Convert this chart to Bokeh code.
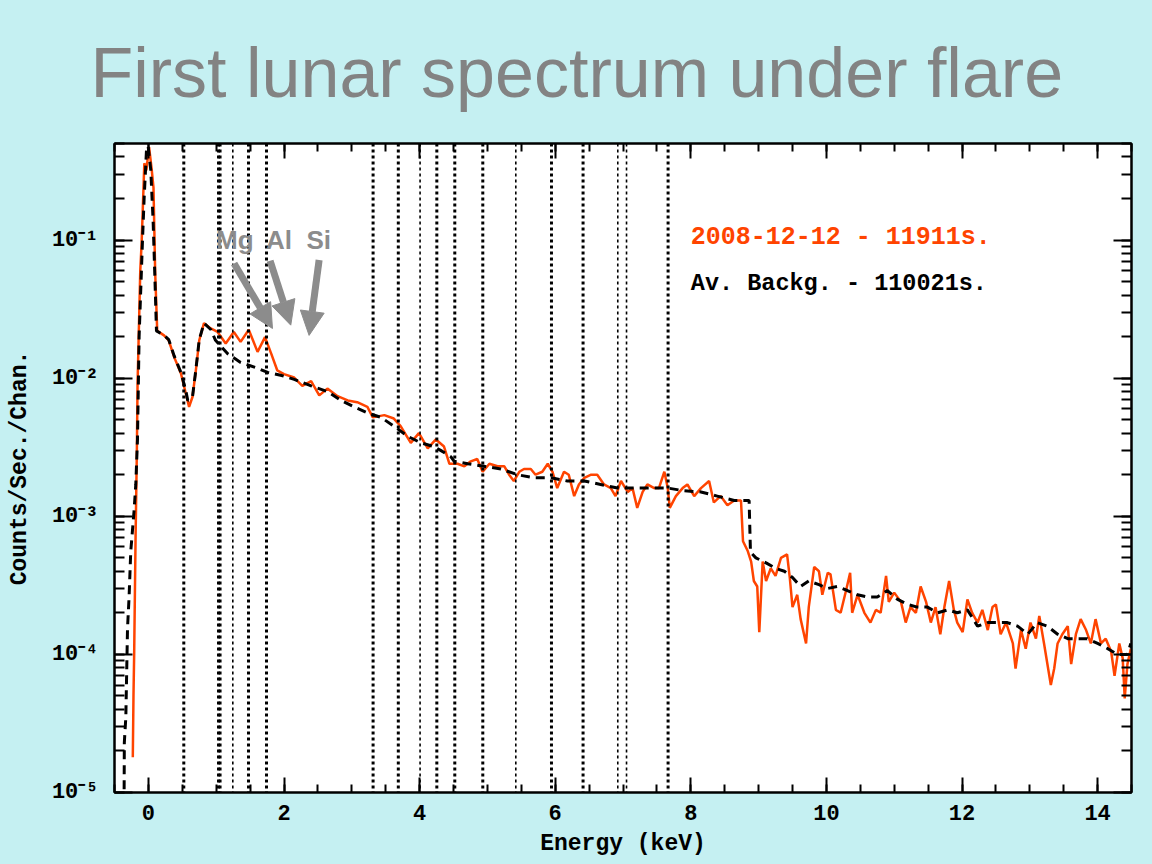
from bokeh.plotting import figure
from bokeh.models import (LogAxis, LinearAxis, Span, Label, Arrow, NormalHead,
                          SingleIntervalTicker, LogTicker, CustomJSTickFormatter)
from bokeh.embed import file_html
from bokeh.resources import INLINE

# ---------------- data ----------------
flare_energy = [-0.23, -0.22, -0.21, -0.19, -0.17, -0.16, -0.12, -0.10, -0.06, -0.03,
                0.01, 0.05, 0.075, 0.10, 0.13, 0.23, 0.30, 0.38, 0.48, 0.55,
                0.60, 0.65, 0.70, 0.75, 0.82, 0.92, 1.02, 1.14, 1.26, 1.36,
                1.48, 1.61, 1.72, 1.81, 1.90, 2.00, 2.15, 2.27, 2.40, 2.52,
                2.64, 2.79, 2.94, 3.08, 3.23, 3.31, 3.48, 3.62, 3.72, 3.87,
                3.99, 4.12, 4.24, 4.36, 4.44, 4.56, 4.66, 4.755, 4.85, 4.93,
                5.03, 5.15, 5.25, 5.32, 5.39, 5.47, 5.54, 5.64, 5.71, 5.81,
                5.89, 5.96, 6.03, 6.13, 6.20, 6.28, 6.35, 6.43, 6.53, 6.62,
                6.72, 6.82, 6.89, 6.97, 7.07, 7.14, 7.21, 7.29, 7.36, 7.46,
                7.53, 7.61, 7.66, 7.69, 7.78, 7.88, 7.95, 8.05, 8.15, 8.27,
                8.34, 8.44, 8.54, 8.64, 8.71, 8.74, 8.77, 8.84, 8.89, 8.93,
                8.98, 9.01, 9.06, 9.11, 9.18, 9.25, 9.33, 9.42, 9.46, 9.50,
                9.57, 9.62, 9.70, 9.74, 9.82, 9.89, 9.94, 10.02, 10.06, 10.14,
                10.21, 10.29, 10.35, 10.38, 10.46, 10.56, 10.65, 10.73, 10.80, 10.88,
                10.92, 11.00, 11.10, 11.17, 11.24, 11.32, 11.39, 11.47, 11.54, 11.61,
                11.68, 11.74, 11.81, 11.88, 11.93, 12.01, 12.08, 12.15, 12.23, 12.30,
                12.38, 12.45, 12.50, 12.57, 12.65, 12.75, 12.79, 12.87, 12.94, 13.01,
                13.09, 13.14, 13.21, 13.31, 13.36, 13.41, 13.48, 13.56, 13.61, 13.68,
                13.75, 13.83, 13.90, 13.97, 14.05, 14.12, 14.20, 14.25, 14.32, 14.37,
                14.40, 14.44, 14.49]
flare_counts = [1.8e-5, 5.0e-5, 1.0e-4, 6.5e-4, 3.0e-3, 9.0e-3, 0.060, 0.095, 0.36, 0.32,
                0.47, 0.32, 0.24, 0.058, 0.022, 0.0204, 0.0188, 0.0142, 0.0108, 0.0078,
                0.0062, 0.0073, 0.0114, 0.0188, 0.025, 0.0229, 0.0216, 0.0178, 0.0216, 0.0183,
                0.0224, 0.0155, 0.0198, 0.0151, 0.0114, 0.0107, 0.0101, 0.0088, 0.0095, 0.0075,
                0.0084, 0.0074, 0.0069, 0.0067, 0.0062, 0.0052, 0.0054, 0.0051, 0.0045, 0.0034,
                0.0040, 0.0031, 0.0036, 0.0032, 0.0024, 0.0024, 0.0023, 0.0025, 0.0026, 0.0021,
                0.0024, 0.0023, 0.0023, 0.0020, 0.0018, 0.0021, 0.0022, 0.0022, 0.0020, 0.0021,
                0.0024, 0.0021, 0.0016, 0.0021, 0.0020, 0.0014, 0.0017, 0.0019, 0.0020, 0.0020,
                0.0017, 0.0016, 0.0014, 0.0018, 0.0015, 0.0016, 0.00115, 0.0015, 0.0017, 0.0016,
                0.0016, 0.0021, 0.0016, 0.00115, 0.0014, 0.0016, 0.0017, 0.0014, 0.0016, 0.0018,
                0.00126, 0.0014, 0.0012, 0.0013, 0.0013, 0.0013, 0.00066, 0.00056, 0.00047, 0.00034,
                0.00031, 0.000145, 0.00047, 0.00034, 0.00042, 0.00037, 0.00050, 0.00053, 0.00036, 0.00022,
                0.00027, 0.00018, 0.00012, 0.00022, 0.00043, 0.00040, 0.00027, 0.00039, 0.00038, 0.00021,
                0.00020, 0.00029, 0.00039, 0.00020, 0.00027, 0.00020, 0.00017, 0.00021, 0.00020, 0.00037,
                0.00024, 0.00028, 0.00024, 0.00017, 0.00022, 0.00020, 0.00031, 0.00024, 0.00017, 0.00022,
                0.00014, 0.00022, 0.00034, 0.00021, 0.00017, 0.000145, 0.00025, 0.00020, 0.00017, 0.00021,
                0.00015, 0.00022, 0.00023, 0.00014, 0.00017, 0.00012, 0.000079, 0.00015, 0.00011, 0.00017,
                0.00013, 0.00019, 0.00012, 0.00006, 0.000079, 0.00012, 0.00014, 0.00016, 0.000085, 0.00014,
                0.00018, 0.00015, 0.00012, 0.00018, 0.00012, 0.00013, 0.000105, 0.00007, 0.00012, 0.000094,
                0.000048, 0.000085, 0.00011]

backg_energy = [-0.40, -0.358, -0.355, -0.333, -0.308, -0.285, -0.26, -0.211, -0.186, -0.161,
                -0.137, -0.087, -0.063, -0.028, -0.004, 0.035, 0.069, 0.094, 0.119, 0.23,
                0.30, 0.38, 0.48, 0.55, 0.58, 0.65, 0.70, 0.75, 0.82, 0.92,
                0.99, 1.17, 1.36, 1.61, 1.76, 1.95, 2.15, 2.40, 2.64, 2.84,
                3.03, 3.23, 3.43, 3.62, 3.82, 4.02, 4.21, 4.31, 4.46, 4.51,
                4.71, 4.95, 5.20, 5.44, 5.69, 5.94, 6.18, 6.43, 6.67, 6.92,
                7.16, 7.42, 7.66, 7.90, 8.15, 8.39, 8.64, 8.81, 8.86, 8.88,
                8.96, 9.11, 9.25, 9.38, 9.50, 9.62, 9.74, 9.89, 10.02, 10.16,
                10.31, 10.46, 10.61, 10.75, 10.90, 11.05, 11.20, 11.34, 11.49, 11.64,
                11.79, 11.93, 12.08, 12.23, 12.38, 12.52, 12.67, 12.82, 12.97, 13.11,
                13.26, 13.41, 13.56, 13.70, 13.85, 14.00, 14.15, 14.29, 14.44, 14.49]
backg_counts = [5.0e-6, 1.0e-5, 2.3e-5, 3.5e-5, 1.55e-4, 2.6e-4, 5.6e-4, 1.1e-3, 1.7e-3, 3.6e-3,
                0.020, 0.10, 0.20, 0.45, 0.48, 0.32, 0.14, 0.057, 0.022, 0.0204,
                0.0190, 0.0145, 0.0110, 0.0082, 0.0069, 0.0073, 0.0115, 0.0190, 0.025, 0.0225,
                0.0188, 0.0150, 0.0130, 0.0118, 0.0110, 0.0105, 0.0098, 0.0088, 0.0080, 0.0069,
                0.0062, 0.0056, 0.0052, 0.0045, 0.0038, 0.0034, 0.0032, 0.0030, 0.0027, 0.0025,
                0.0024, 0.0023, 0.0022, 0.0020, 0.0019, 0.0019, 0.0018, 0.0018, 0.0017, 0.0016,
                0.0016, 0.0016, 0.0016, 0.00153, 0.0015, 0.0014, 0.0013, 0.0013, 0.0013, 0.00055,
                0.00050, 0.00046, 0.00042, 0.00040, 0.00036, 0.00031, 0.00034, 0.00032, 0.00030, 0.00031,
                0.00029, 0.00027, 0.00026, 0.00026, 0.00029, 0.00025, 0.00023, 0.00022, 0.00022, 0.00020,
                0.00021, 0.00020, 0.00021, 0.00016, 0.00017, 0.00017, 0.00017, 0.00016, 0.00014, 0.00017,
                0.00016, 0.00014, 0.00013, 0.00013, 0.00013, 0.00012, 0.00011, 0.00010, 0.00010, 0.00012]

# energies of the marked fluorescence lines (keV) and their drawn weight
line_energies = [0.522, 1.034, 1.057, 1.245, 1.476, 1.742, 3.314, 3.686, 4.007,
                 4.254, 4.519, 4.932, 5.419, 5.945, 6.411, 6.923, 7.052, 7.665]
line_heavy = [True, True, True, False, True, True, True, True, False,
              True, True, True, False, True, True, False, False, True]

element_names = ["Mg", "Al", "Si"]
legend_texts = ["2008-12-12 - 11911s.", "Av. Backg. - 110021s."]
title_text = "First lunar spectrum under flare"

# ---------------- styling ----------------
BG = "#c5f0f2"
ORANGE = "#ff4400"
GREY = "#8c8c8c"
MONO = "Liberation Mono"

p = figure(width=1152, height=864, x_range=(-0.5, 14.5), y_range=(1e-5, 0.5),
           y_axis_type="log", output_backend="svg", toolbar_location=None,
           min_border_left=114, min_border_right=21, min_border_top=143,
           min_border_bottom=72, title=title_text)

p.title.text_font = "Liberation Sans"
p.title.text_font_size = "70px"
p.title.text_font_style = "normal"
p.title.text_color = "#838383"
p.title.align = "left"
p.title.offset = -24
p.title.standoff = 63
p.title.text_line_height = 0.8

p.background_fill_color = "white"
p.border_fill_color = BG
p.outline_line_color = "black"
p.outline_line_width = 2
p.xgrid.visible = False
p.ygrid.visible = False

xticker = SingleIntervalTicker(interval=2, num_minor_ticks=4)
yticker = LogTicker(num_minor_ticks=10, mantissas=[1])

sup_code = """
const sup = {"-":"\u207b","0":"\u2070","1":"\u00b9","2":"\u00b2","3":"\u00b3","4":"\u2074","5":"\u2075","6":"\u2076","7":"\u2077","8":"\u2078","9":"\u2079"};
const e = Math.round(Math.log10(tick));
return "10" + String(e).split("").map(c => sup[c]).join("");
"""

def style_axis(ax, major_in, minor_in):
    ax.axis_line_color = "black"
    ax.axis_line_width = 2
    ax.major_tick_in = major_in
    ax.major_tick_out = 0
    ax.minor_tick_in = minor_in
    ax.minor_tick_out = 0
    ax.major_tick_line_width = 2
    ax.minor_tick_line_width = 2
    ax.major_tick_line_color = "black"
    ax.minor_tick_line_color = "black"

xa = p.xaxis[0]
xa.ticker = xticker
style_axis(xa, 15, 8)
xa.major_label_text_font = MONO
xa.major_label_text_font_style = "bold"
xa.major_label_text_font_size = "22px"
xa.major_label_text_color = "black"
xa.major_label_standoff = 12
xa.axis_label = "Energy (keV)"
xa.axis_label_text_font = MONO
xa.axis_label_text_font_style = "bold"
xa.axis_label_text_font_size = "23px"
xa.axis_label_text_color = "black"
xa.axis_label_standoff = 8

ya = p.yaxis[0]
ya.ticker = yticker
ya.formatter = CustomJSTickFormatter(code=sup_code)
style_axis(ya, 18, 10)
ya.major_label_text_font = MONO
ya.major_label_text_font_style = "bold"
ya.major_label_text_font_size = "22px"
ya.major_label_text_color = "black"
ya.major_label_standoff = 16
ya.axis_label = "Counts/Sec./Chan."
ya.axis_label_text_font = MONO
ya.axis_label_text_font_style = "bold"
ya.axis_label_text_font_size = "23px"
ya.axis_label_text_color = "black"
ya.axis_label_standoff = 16

blank = CustomJSTickFormatter(code="return '';")
top_ax = LinearAxis(ticker=xticker, formatter=blank)
style_axis(top_ax, 15, 8)
top_ax.major_label_standoff = 0
p.add_layout(top_ax, "above")
right_ax = LogAxis(ticker=yticker, formatter=blank)
style_axis(right_ax, 18, 10)
right_ax.major_label_standoff = 0
p.add_layout(right_ax, "right")

# fluorescence line markers
for e, heavy in zip(line_energies, line_heavy):
    p.add_layout(Span(location=e, dimension="height", line_color="black",
                      line_width=3 if heavy else 1.6, line_dash="3 3"))

# spectra
p.line(flare_energy, flare_counts, line_color=ORANGE, line_width=2.5)
p.line(backg_energy, backg_counts, line_color="black", line_width=3,
       line_dash="9 6")

# legend texts
p.add_layout(Label(x=8.0, y=0.105, text=legend_texts[0], text_font=MONO,
                   text_font_style="bold", text_font_size="25px",
                   text_color=ORANGE, text_baseline="middle"))
p.add_layout(Label(x=8.0, y=0.0488, text=legend_texts[1], text_font=MONO,
                   text_font_style="bold", text_font_size="23.5px",
                   text_color="black", text_baseline="middle"))

# element labels and arrows
label_x = [1.274, 1.925, 2.513]
arrow_start = [(1.264, 0.0677), (1.795, 0.0708), (2.518, 0.0716)]
arrow_end = [(1.830, 0.0229), (2.100, 0.0242), (2.370, 0.0204)]
for name, lx, (xs, ys), (xe, ye) in zip(element_names, label_x, arrow_start, arrow_end):
    p.add_layout(Label(x=lx, y=0.1, text=name, text_font="Liberation Sans",
                       text_font_style="bold", text_font_size="26px",
                       text_color=GREY, text_align="center", text_baseline="middle"))
    p.add_layout(Arrow(end=NormalHead(size=24, fill_color=GREY, line_color=GREY),
                       x_start=xs, y_start=ys, x_end=xe, y_end=ye,
                       line_color=GREY, line_width=7))

html = file_html(p, INLINE)
html = html.replace("<head>", "<head><style>html, body { background: %s; }</style>" % BG, 1)
open("out.html", "w").write(html)
